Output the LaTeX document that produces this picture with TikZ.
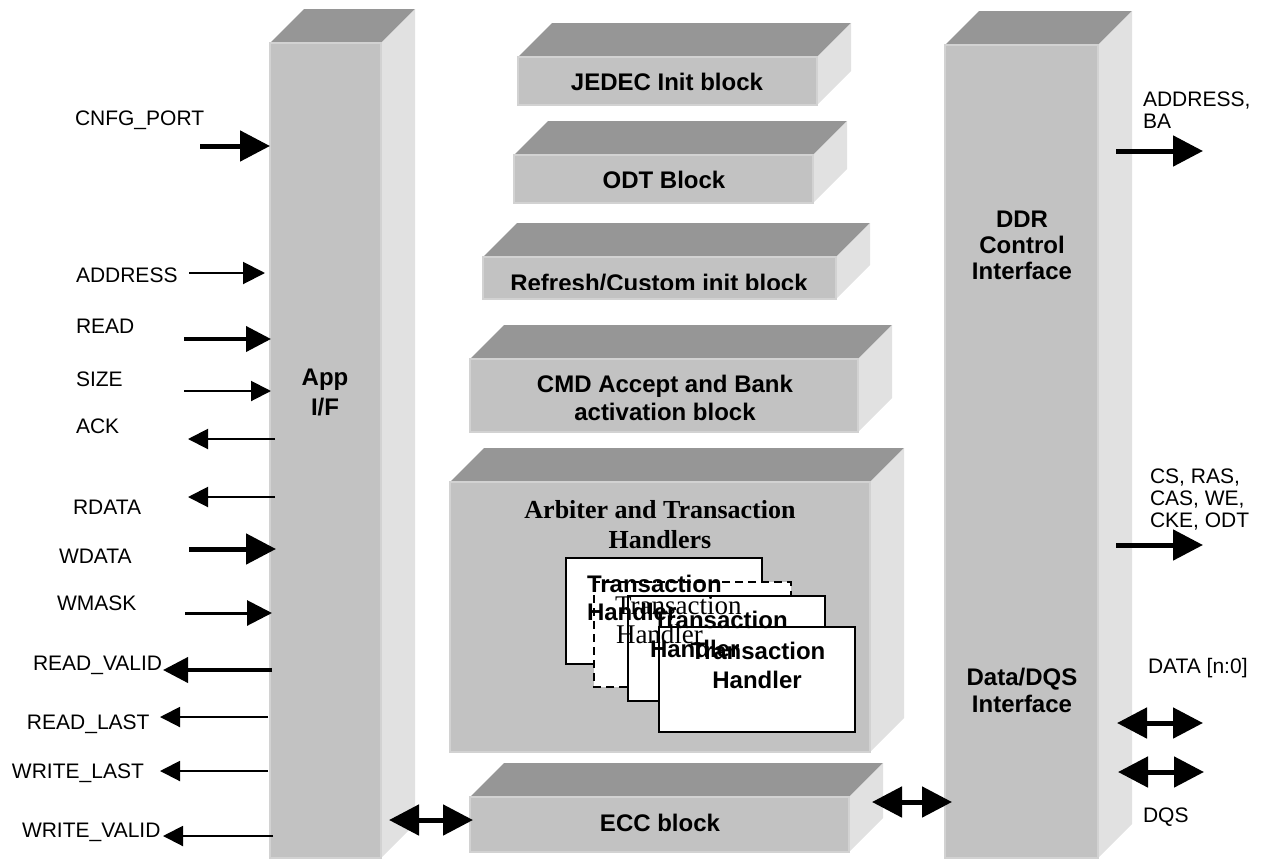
\documentclass[tikz,border=0pt]{standalone}
\usepackage{fontspec}
\setmainfont{Liberation Sans}
\newfontfamily\timesfam{Liberation Serif}
\usetikzlibrary{arrows.meta}
\definecolor{frontc}{RGB}{194,194,194}
\definecolor{topc}{RGB}{150,150,150}
\definecolor{sidec}{RGB}{225,225,225}
\definecolor{edgec}{RGB}{210,210,210}
\newcommand\slab[4]{%
  \fill[topc] (#1,#2) -- (#1+34,#2-34) -- (#3+34,#2-34) -- (#3,#2) -- cycle;
  \fill[sidec] (#3,#2) -- (#3+34,#2-34) -- (#3+34,#4-34) -- (#3,#4) -- cycle;
  \filldraw[fill=frontc, draw=edgec, line width=1.5pt] (#1,#2) rectangle (#3,#4);
}
\begin{document}
\begin{tikzpicture}[x=1pt,y=-1pt,
  every node/.style={inner sep=0pt, outer sep=0pt},
  lab/.style={font=\fontsize{21}{22}\selectfont, anchor=base west},
  blab/.style={font=\bfseries\fontsize{24}{28}\selectfont, anchor=base},
  blabw/.style={font=\bfseries\fontsize{24}{28}\selectfont, anchor=base west},
  tlab/.style={font=\timesfam\bfseries\fontsize{26}{30}\selectfont, anchor=base},
  tlabw/.style={font=\timesfam\fontsize{27}{30}\selectfont, anchor=base west},
  sig/.style n args={2}{line width=#1pt, -{Triangle[length=#2pt,width=#2pt]}},
  dsig/.style n args={2}{line width=#1pt, {Triangle[length=#2pt,width=#2pt]}-{Triangle[length=#2pt,width=#2pt]}},
  thbox/.style={fill=white, draw=black, line width=2pt},
  thdash/.style={fill=white, draw=black, line width=2pt, dash pattern=on 8pt off 5pt}]
\useasboundingbox (0,0) rectangle (1263,860);

% ---------- 3D blocks ----------
\slab{270}{43}{381}{858}   % App I/F
\slab{945}{45}{1098}{858}  % DDR
\slab{518}{57}{817}{105}   % JEDEC
\slab{514}{155}{813}{203}  % ODT
\slab{483}{257}{836}{299}  % Refresh
\slab{470}{359}{858}{432}  % CMD
\slab{450}{482}{870}{752}  % Arbiter
\slab{470}{797}{849}{852}  % ECC

% ---------- block labels ----------
\node[blab] (app1) at (325,385) {App};
\node[blab] (app2) at (325,415) {I/F};
\node[blab] (jedec) at (667,90) {JEDEC Init block};
\node[blab] (odt) at (664,188) {ODT Block};
\begin{scope}
  \clip (483,250) rectangle (836,289);
  \node[blab] (refr) at (659,291) {Refresh/Custom init block};
\end{scope}
\node[blab] (cmd1) at (665,392) {CMD Accept and Bank};
\node[blab] (cmd2) at (665,420) {activation block};
\node[tlab] (arb1) at (660,518) {Arbiter and Transaction};
\node[tlab] (arb2) at (660,548) {Handlers};
\node[blab] (ecc) at (660,831) {ECC block};
\node[blab] (ddr1) at (1022,227) {DDR};
\node[blab] (ddr2) at (1022,253) {Control};
\node[blab] (ddr3) at (1022,279) {Interface};
\node[blab] (dqs1) at (1022,685) {Data/DQS};
\node[blab] (dqs2) at (1022,712) {Interface};

% ---------- transaction handler stack ----------
\draw[thbox] (566,558) rectangle (762,664);
\draw[thdash] (594,582) rectangle (791,687);
\draw[thbox] (628,596) rectangle (825,701);
\draw[thbox] (659,627) rectangle (855,732);
\node[blabw] (th1a) at (587,592) {Transaction};
\node[blabw] (th1b) at (587,620) {Handler};
\node[tlabw] (th2a) at (615,614) {Transaction};
\node[tlabw] (th2b) at (616,643) {Handler};
\node[blabw] (th3a) at (653,628) {Transaction};
\node[blabw] (th3b) at (650,657) {Handler};
\node[blab] (th4a) at (758,659) {Transaction};
\node[blab] (th4b) at (757,688) {Handler};

% ---------- left signal labels ----------
\node[lab] (lcnfg) at (75,125) {CNFG\_PORT};
\node[lab] (laddr) at (76,282) {ADDRESS};
\node[lab] (lread) at (76,333) {READ};
\node[lab] (lsize) at (76,386) {SIZE};
\node[lab] (lack) at (76,433) {ACK};
\node[lab] (lrdata) at (73,514) {RDATA};
\node[lab] (lwdata) at (59,563) {WDATA};
\node[lab] (lwmask) at (57,610) {WMASK};
\node[lab] (lrvalid) at (33,670) {READ\_VALID};
\node[lab] (lrlast) at (27,729) {READ\_LAST};
\node[lab] (lwlast) at (12,778) {WRITE\_LAST};
\node[lab] (lwvalid) at (22,837) {WRITE\_VALID};

% ---------- right signal labels ----------
\node[lab] (raddr1) at (1143,106) {ADDRESS,};
\node[lab] (raddr2) at (1143,128) {BA};
\node[lab] (rcs1) at (1150,483) {CS, RAS,};
\node[lab] (rcs2) at (1150,505) {CAS, WE,};
\node[lab] (rcs3) at (1150,527) {CKE, ODT};
\node[lab] (rdata) at (1148,673) {DATA [n:0]};
\node[lab] (rdqs) at (1143,822) {DQS};

% ---------- arrow end points ----------
\coordinate (cnfgS) at (200,146);  \coordinate (cnfgE) at (270,146);
\coordinate (addrS) at (189,273);  \coordinate (addrE) at (265,273);
\coordinate (readS) at (184,339);  \coordinate (readE) at (271,339);
\coordinate (sizeS) at (184,391);  \coordinate (sizeE) at (271,391);
\coordinate (ackS) at (275,439);   \coordinate (ackE) at (188,439);
\coordinate (rdataS) at (275,497); \coordinate (rdataE) at (188,497);
\coordinate (wdataS) at (189,549); \coordinate (wdataE) at (276,549);
\coordinate (wmaskS) at (185,613); \coordinate (wmaskE) at (272,613);
\coordinate (rvalS) at (272,670);  \coordinate (rvalE) at (163,670);
\coordinate (rlastS) at (268,717); \coordinate (rlastE) at (160,717);
\coordinate (wlastS) at (268,771); \coordinate (wlastE) at (160,771);
\coordinate (wvalS) at (273,836);  \coordinate (wvalE) at (163,836);
\coordinate (appeccA) at (389,820); \coordinate (appeccB) at (473,820);
\coordinate (eccddrA) at (872,802); \coordinate (eccddrB) at (952,802);
\coordinate (dataA) at (1117,723);  \coordinate (dataB) at (1203,723);
\coordinate (dqsA) at (1118,772);   \coordinate (dqsB) at (1204,772);
\coordinate (abaS) at (1116,151);   \coordinate (abaE) at (1203,151);
\coordinate (csS) at (1116,545);    \coordinate (csE) at (1203,545);

% ---------- arrows ----------
\draw[sig={5}{30}] (cnfgS) -- (cnfgE);
\draw[sig={2}{22}] (addrS) -- (addrE);
\draw[sig={4}{25}] (readS) -- (readE);
\draw[sig={2}{20}] (sizeS) -- (sizeE);
\draw[sig={2}{20}] (ackS) -- (ackE);
\draw[sig={2}{20}] (rdataS) -- (rdataE);
\draw[sig={5}{30}] (wdataS) -- (wdataE);
\draw[sig={3}{25}] (wmaskS) -- (wmaskE);
\draw[sig={4}{25}] (rvalS) -- (rvalE);
\draw[sig={2}{20}] (rlastS) -- (rlastE);
\draw[sig={2}{20}] (wlastS) -- (wlastE);
\draw[sig={2}{20}] (wvalS) -- (wvalE);
\draw[dsig={5}{30}] (appeccA) -- (appeccB);
\draw[dsig={5}{30}] (eccddrA) -- (eccddrB);
\draw[dsig={5}{30}] (dataA) -- (dataB);
\draw[dsig={5}{30}] (dqsA) -- (dqsB);
\draw[sig={5}{30}] (abaS) -- (abaE);
\draw[sig={5}{30}] (csS) -- (csE);
\end{tikzpicture}
\end{document}
